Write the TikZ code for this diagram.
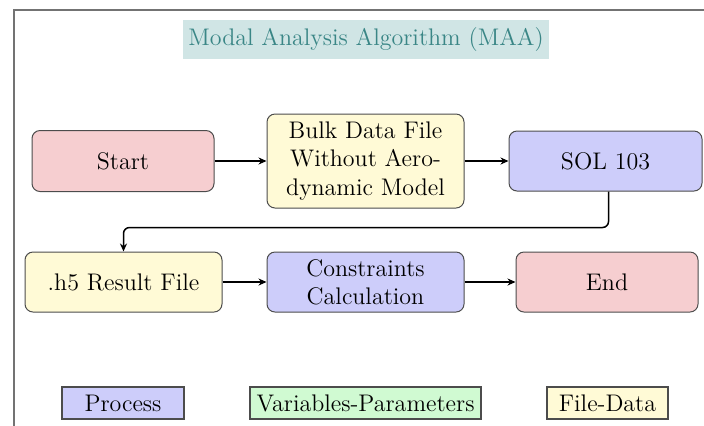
\documentclass[tikz,border=0pt]{standalone}
\usetikzlibrary{arrows.meta}
\definecolor{titlefill}{RGB}{208,229,229}
\definecolor{titletext}{RGB}{58,134,134}
\definecolor{pinkfill}{RGB}{246,206,208}
\definecolor{yellowfill}{RGB}{255,250,214}
\definecolor{bluefill}{RGB}{205,205,250}
\definecolor{greenfill}{RGB}{208,250,210}
\begin{document}
\begin{tikzpicture}[x=0.5pt,y=-0.5pt,
  every node/.style={font=\fontsize{12}{14.2}\selectfont},
  box/.style={draw=black!70, line width=0.5pt, rounded corners=4pt, align=center, inner sep=0pt},
  leg/.style={draw=black!70, line width=0.6pt, inner sep=0pt, minimum height=16pt},
  arr/.style={-{Stealth[length=4pt,width=3.5pt]}, line width=0.75pt}]
\useasboundingbox (0,0) rectangle (704,425);
\draw[black!55, line width=0.75pt] (14,430) -- (14,10) -- (710,10);

\node[fill=titlefill, text=titletext, minimum width=183pt, minimum height=19.5pt, inner sep=0pt] (title) at (366,39.5) {Modal Analysis Algorithm (MAA)};

\node[box, fill=pinkfill, minimum width=91pt, minimum height=30.5pt] (start) at (123,161) {Start};
\node[box, fill=yellowfill, minimum width=98.5pt, minimum height=47pt] (bulk) at (365.5,161) {Bulk Data File\\Without Aero-\\dynamic Model};
\node[box, fill=bluefill, minimum width=96.5pt, minimum height=30pt] (sol) at (605.5,161) {SOL 103};

\node[box, fill=yellowfill, minimum width=98.5pt, minimum height=30pt] (h5) at (123.5,282) {.h5 Result File};
\node[box, fill=bluefill, minimum width=98.5pt, minimum height=30pt] (con) at (365.5,282) {Constraints\\Calculation};
\node[box, fill=pinkfill, minimum width=91pt, minimum height=30pt] (end) at (607,282) {End};

\draw[arr] (start) -- (bulk);
\draw[arr] (bulk) -- (sol);
\draw[arr, rounded corners=3pt] ([xshift=1.5pt]sol.south) -- ++(0,36) -| (h5.north);
\draw[arr] (h5) -- (con);
\draw[arr] (con) -- (end);

\node[leg, fill=bluefill, minimum width=61pt] (lp) at (123,403) {Process};
\node[leg, fill=greenfill, minimum width=115.5pt] (lv) at (365.5,403) {Variables-Parameters};
\node[leg, fill=yellowfill, minimum width=60.5pt] (lf) at (607.5,403) {File-Data};
\end{tikzpicture}
\end{document}
